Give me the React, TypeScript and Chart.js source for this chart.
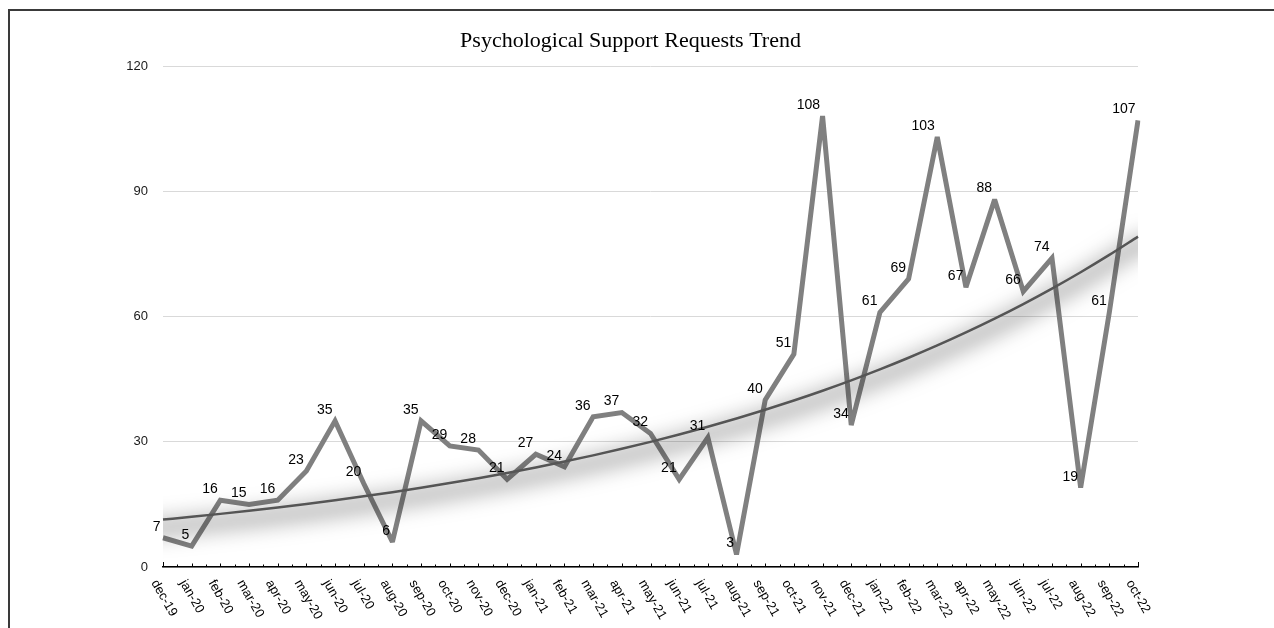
import React, { useEffect, useRef } from "react";
import { Chart, registerables } from "chart.js";

Chart.register(...registerables);

const months = [
  "dec-19", "jan-20", "feb-20", "mar-20", "apr-20", "may-20", "jun-20", "jul-20", "aug-20", "sep-20",
  "oct-20", "nov-20", "dec-20", "jan-21", "feb-21", "mar-21", "apr-21", "may-21", "jun-21", "jul-21",
  "aug-21", "sep-21", "oct-21", "nov-21", "dec-21", "jan-22", "feb-22", "mar-22", "apr-22", "may-22",
  "jun-22", "jul-22", "aug-22", "sep-22", "oct-22",
];

const requests = [
  7, 5, 16, 15, 16, 23, 35, 20, 6, 35,
  29, 28, 21, 27, 24, 36, 37, 32, 21, 31,
  3, 40, 51, 108, 34, 61, 69, 103, 67, 88,
  66, 74, 19, 61, 107,
];

const yMin = 0;
const yMax = 120;
const yStep = 30;

const chartTitle = "Psychological Support Requests Trend";

// Exponential least-squares trendline (as in a spreadsheet "exponential trendline") fitted to the data
function exponentialTrend(vals: number[]): number[] {
  const n = vals.length;
  let sx = 0, sy = 0, sxx = 0, sxy = 0;
  vals.forEach((v, i) => {
    const ly = Math.log(v);
    sx += i; sy += ly; sxx += i * i; sxy += i * ly;
  });
  const b = (n * sxy - sx * sy) / (n * sxx - sx * sx);
  const a = (sy - b * sx) / n;
  return vals.map((_, i) => Math.exp(a + b * i));
}

const SANS = "'Liberation Sans', Arial, Helvetica, sans-serif";

const axisDecor = {
  id: "axisDecor",
  afterDraw(chart: any) {
    const ctx = chart.ctx;
    const xs = chart.scales.x;
    const area = chart.chartArea;
    const n = months.length;
    ctx.save();
    ctx.strokeStyle = "#000";
    ctx.lineWidth = 1;
    for (let i = 0; i < n; i++) {
      const x = Math.round(xs.getPixelForValue(i)) + 0.5;
      ctx.beginPath();
      ctx.moveTo(x, area.bottom);
      ctx.lineTo(x, area.bottom - (i === n - 1 || i === 0 ? 5 : 3.5));
      ctx.stroke();
      if (i < n - 1) {
        const xm = Math.round((xs.getPixelForValue(i) + xs.getPixelForValue(i + 1)) / 2) + 0.5;
        ctx.beginPath();
        ctx.moveTo(xm, area.bottom);
        ctx.lineTo(xm, area.bottom - 2.5);
        ctx.stroke();
      }
    }
    ctx.fillStyle = "#000";
    ctx.font = "13px " + SANS;
    ctx.textAlign = "left";
    ctx.textBaseline = "middle";
    for (let i = 0; i < n; i++) {
      const x = xs.getPixelForValue(i);
      ctx.save();
      ctx.translate(x - 9, area.bottom + 14);
      ctx.rotate(Math.PI / 3);
      ctx.fillText(months[i], 0, 0);
      ctx.restore();
    }
    ctx.restore();
  },
};

const valueLabels = {
  id: "valueLabels",
  afterDatasetsDraw(chart: any) {
    const ctx = chart.ctx;
    const meta = chart.getDatasetMeta(1);
    ctx.save();
    ctx.fillStyle = "#000";
    ctx.font = "14px " + SANS;
    ctx.textAlign = "right";
    ctx.textBaseline = "middle";
    meta.data.forEach((pt: any, i: number) => {
      ctx.fillText(String(requests[i]), pt.x - 2.5, pt.y - 11);
    });
    ctx.restore();
  },
};

const lineStyling = {
  id: "lineStyling",
  beforeDatasetDraw(chart: any, args: any) {
    const ctx = chart.ctx;
    if (args.index === 0) {
      // soft drop shadow under the trendline (shadow only, path drawn off-canvas)
      const area = chart.chartArea;
      const pts = chart.getDatasetMeta(0).data;
      const FAR = 10000;
      ctx.save();
      ctx.beginPath();
      ctx.rect(area.left, area.top, area.right - area.left, area.bottom - area.top);
      ctx.clip();
      ctx.translate(0, -FAR);
      ctx.shadowColor = "rgba(0,0,0,0.55)";
      ctx.shadowBlur = 22;
      ctx.shadowOffsetX = 0;
      ctx.shadowOffsetY = FAR + 8;
      ctx.strokeStyle = "#000";
      ctx.lineWidth = 9;
      ctx.lineJoin = "round";
      ctx.beginPath();
      pts.forEach((p: any, i: number) => {
        if (i === 0) ctx.moveTo(p.x - 20, p.y + 1);
        ctx.lineTo(p.x, p.y);
      });
      const last = pts[pts.length - 1];
      ctx.lineTo(last.x + 20, last.y - 4);
      ctx.stroke();
      ctx.restore();
    }
    ctx.save();
    if (args.index === 1) ctx.miterLimit = 2.5;
  },
  afterDatasetDraw(chart: any) {
    chart.ctx.restore();
  },
};

function TrendChart() {
  const canvasRef = useRef<HTMLCanvasElement | null>(null);

  useEffect(() => {
    if (!canvasRef.current) return;
    const trend = exponentialTrend(requests);
    const chart = new Chart(canvasRef.current, {
      type: "line",
      data: {
        labels: months,
        datasets: [
          {
            label: "Trend",
            data: trend,
            borderColor: "#555555",
            borderWidth: 2.5,
            pointRadius: 0,
            cubicInterpolationMode: "monotone",
            fill: false,
          },
          {
            label: "Requests",
            data: requests,
            borderColor: "#808080",
            borderWidth: 5,
            borderJoinStyle: "miter",
            pointRadius: 0,
            tension: 0,
            fill: false,
          },
        ],
      },
      options: {
        animation: false,
        responsive: false,
        maintainAspectRatio: false,
        layout: { padding: { left: 123, right: 136, top: 0, bottom: 0 } },
        plugins: {
          legend: { display: false },
          tooltip: { enabled: false },
          title: {
            display: true,
            text: chartTitle,
            color: "#000",
            font: { family: "'Liberation Serif', 'Times New Roman', serif", size: 22, weight: "normal", lineHeight: 1.2 },
            padding: { top: 28, bottom: 11.6 },
          },
        },
        scales: {
          x: {
            type: "category",
            offset: false,
            grid: { display: false },
            border: { display: true, color: "#000", width: 1.5 },
            ticks: { display: false },
            afterFit: (s: any) => { s.height = 61; },
          },
          y: {
            min: yMin,
            max: yMax,
            ticks: {
              stepSize: yStep,
              color: "#1a1a1a",
              font: { family: SANS, size: 13 },
              padding: 15,
            },
            grid: { color: "#d9d9d9", lineWidth: 1, drawTicks: false },
            border: { display: false },
            afterFit: (s: any) => { s.width = 40; },
          },
        },
      },
      plugins: [lineStyling, valueLabels, axisDecor],
    } as any);
    return () => chart.destroy();
  }, []);

  return <canvas ref={canvasRef} width={1274} height={628} style={{ display: "block", width: 1274, height: 628 }} />;
}

export default function App() {
  return (
    <div style={{ position: "fixed", left: 0, top: 0, width: 1274, height: 628, background: "#fff", overflow: "hidden" }}>
      <TrendChart />
      <div
        style={{
          position: "absolute",
          left: 8,
          top: 9,
          width: 1400,
          height: 700,
          borderLeft: "2px solid #3a3a3a",
          borderTop: "2px solid #3a3a3a",
          pointerEvents: "none",
        }}
      />
    </div>
  );
}
